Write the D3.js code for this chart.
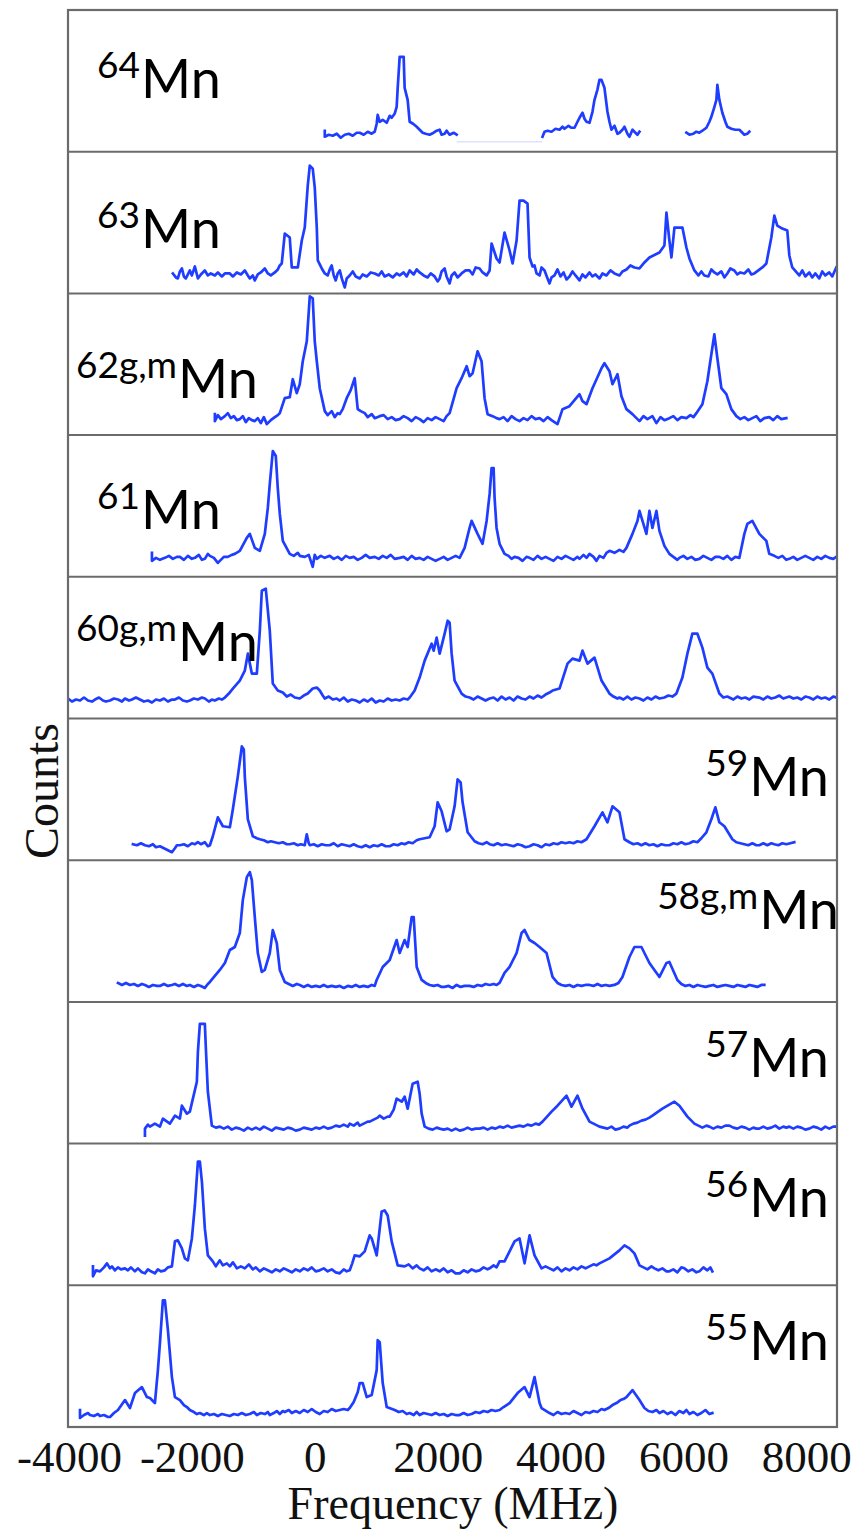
<!DOCTYPE html>
<html><head><meta charset="utf-8">
<script src="https://cdn.jsdelivr.net/npm/d3@7"></script>
<style>body{margin:0;background:#fff}</style>
</head><body><svg id="c" width="853" height="1531"></svg>
<script>
// ---------- data ----------
const isotopes = ["64Mn","63Mn","62Mn","61Mn","60Mn","59Mn","58Mn","57Mn","56Mn","55Mn"];
const massLabels = ["64","63","62g,m","61","60g,m","59","58g,m","57","56","55"];
const elementLabel = "Mn";
const xTicks = [-4000,-2000,0,2000,4000,6000,8000];
const xTitle = "Frequency (MHz)";
const yTitle = "Counts";

// [frequency MHz, counts (relative)]; null = gap in scan
const spec64 = [[163,21],[163,15],[228,17],[293,16],[358,18],[423,14],[488,17],[553,18],[618,16],[683,19],[732,19],[797,17],[862,20],[927,18],[976,20],[1008,28],[1024,37],[1057,30],[1106,32],[1171,29],[1220,36],[1252,34],[1300,38],[1333,45],[1350,64],[1382,95],[1447,95],[1463,64],[1512,52],[1545,30],[1600,28],[1659,25],[1707,22],[1756,19],[1805,18],[1870,17],[1935,19],[1984,21],[2033,22],[2065,17],[2114,18],[2146,21],[2195,17],[2260,19],[2309,17],
  null,
  [3707,15],[3740,20],[3789,21],[3854,20],[3919,23],[3984,22],[4033,25],[4065,23],[4130,26],[4179,24],[4228,24],[4276,30],[4309,34],[4358,39],[4390,33],[4423,30],[4472,29],[4520,40],[4553,52],[4600,62],[4634,72],[4667,72],[4715,64],[4764,40],[4797,30],[4829,22],[4878,26],[4927,18],[4959,19],[5008,22],[5041,25],[5089,18],[5122,15],[5171,22],[5203,20],[5252,17],[5285,20],
  null,
  [6049,19],[6098,17],[6163,18],[6211,20],[6260,19],[6309,21],[6374,24],[6423,30],[6455,35],[6500,44],[6537,52],[6553,67],[6585,52],[6634,39],[6683,30],[6715,25],[6780,23],[6845,22],[6911,22],[6960,19],[6992,17],[7040,18],[7073,20]];
const gap64 = [[2309,10],[3707,10]];
const spec63 = [[-2309,20],[-2260,16],[-2228,15],[-2195,22],[-2163,25],[-2130,17],[-2098,15],[-2065,19],[-2033,23],[-2000,18],[-1951,27],[-1919,19],[-1902,15],[-1854,19],[-1789,23],[-1740,18],[-1691,20],[-1626,18],[-1577,21],[-1512,17],[-1463,20],[-1382,20],[-1333,17],[-1268,21],[-1203,19],[-1138,23],[-1089,18],[-1057,15],[-1008,18],[-976,13],[-927,19],[-878,21],[-813,25],[-764,20],[-715,18],[-650,21],[-601,24],[-569,28],[-537,30],[-488,60],[-407,56],[-374,26],[-276,26],[-211,53],[-163,66],[-114,108],[-81,128],[-33,125],[0,106],[33,66],[49,33],[114,25],[163,20],[211,18],[244,24],[276,28],[309,18],[341,13],[374,20],[407,23],[440,15],[488,6],[520,15],[569,18],[618,22],[667,17],[732,15],[780,19],[846,17],[911,21],[976,20],[1041,18],[1089,22],[1138,17],[1203,19],[1268,16],[1333,20],[1382,18],[1447,21],[1496,17],[1545,23],[1610,19],[1659,24],[1707,21],[1772,18],[1837,16],[1886,20],[1951,17],[2000,12],[2033,15],[2065,22],[2114,25],[2146,17],[2195,10],[2228,18],[2276,21],[2325,16],[2390,20],[2455,23],[2520,23],[2569,19],[2618,26],[2683,25],[2732,21],[2797,18],[2846,23],[2878,50],[2959,35],[3008,31],[3089,61],[3171,43],[3220,30],[3285,53],[3333,93],[3398,93],[3463,90],[3496,36],[3545,27],[3577,28],[3610,20],[3659,18],[3691,26],[3740,23],[3789,15],[3821,10],[3854,16],[3902,18],[3951,24],[4000,17],[4049,21],[4098,14],[4146,17],[4195,22],[4244,18],[4309,13],[4358,19],[4407,16],[4472,21],[4520,17],[4569,19],[4634,15],[4683,20],[4748,18],[4813,23],[4878,20],[4959,18],[5008,22],[5073,24],[5138,28],[5203,26],[5285,25],[5366,31],[5447,36],[5610,41],[5691,48],[5724,81],[5772,53],[5805,36],[5854,66],[5984,66],[6049,46],[6098,35],[6179,23],[6244,18],[6292,22],[6341,18],[6406,17],[6455,24],[6504,21],[6553,19],[6618,22],[6667,16],[6715,20],[6764,25],[6829,23],[6878,19],[6927,21],[6992,20],[7057,24],[7106,19],[7154,20],[7220,23],[7285,26],[7350,30],[7431,56],[7480,78],[7528,68],[7610,65],[7691,63],[7724,38],[7772,26],[7886,18],[7935,23],[7984,17],[8049,21],[8098,16],[8146,20],[8211,15],[8260,22],[8309,18],[8374,21],[8423,17],[8488,26]];
const spec62 = [[-1626,21],[-1626,14],[-1577,20],[-1528,16],[-1463,19],[-1415,22],[-1366,17],[-1317,19],[-1268,15],[-1220,16],[-1171,19],[-1122,13],[-1073,17],[-1024,15],[-976,14],[-927,17],[-878,12],[-829,18],[-780,11],[-715,15],[-650,18],[-601,20],[-569,22],[-488,37],[-407,38],[-358,56],[-293,42],[-244,51],[-195,74],[-130,94],[-81,139],[-33,137],[0,94],[33,74],[81,47],[163,24],[211,20],[276,24],[325,18],[374,22],[407,21],[455,26],[520,37],[585,45],[650,57],[699,26],[748,24],[813,22],[862,18],[927,21],[976,17],[1057,19],[1122,20],[1187,16],[1252,18],[1317,15],[1382,16],[1447,19],[1512,17],[1577,14],[1642,18],[1707,16],[1772,13],[1837,17],[1902,15],[1967,18],[2033,16],[2098,14],[2146,19],[2195,22],[2309,47],[2390,57],[2472,69],[2520,59],[2569,62],[2650,84],[2715,74],[2764,37],[2813,21],[2894,19],[2959,17],[3008,16],[3073,18],[3138,14],[3203,19],[3268,16],[3333,14],[3398,17],[3463,15],[3528,19],[3593,16],[3659,17],[3724,14],[3789,18],[3854,15],[3902,13],[3951,11],[4033,26],[4146,29],[4309,41],[4358,34],[4423,31],[4520,47],[4667,67],[4715,72],[4797,64],[4846,51],[4927,61],[4992,39],[5073,26],[5171,21],[5236,17],[5285,14],[5350,19],[5415,16],[5496,19],[5561,12],[5626,18],[5691,15],[5772,17],[5837,19],[5902,15],[5967,18],[6049,17],[6114,20],[6163,18],[6211,22],[6309,31],[6390,54],[6455,81],[6504,101],[6553,77],[6618,47],[6699,41],[6780,26],[6862,19],[6927,16],[6992,18],[7057,15],[7122,17],[7187,19],[7252,14],[7317,17],[7398,18],[7463,15],[7528,19],[7593,16],[7675,17]];
const spec61 = [[-2650,24],[-2650,16],[-2585,19],[-2520,17],[-2439,19],[-2374,21],[-2309,18],[-2244,20],[-2195,20],[-2130,17],[-2065,21],[-2000,18],[-1951,19],[-1886,22],[-1837,17],[-1789,18],[-1740,23],[-1707,21],[-1642,19],[-1577,14],[-1545,16],[-1480,20],[-1415,20],[-1350,22],[-1301,23],[-1220,26],[-1106,39],[-1057,43],[-976,29],[-894,26],[-813,43],[-764,69],[-732,93],[-683,126],[-634,121],[-602,89],[-569,63],[-520,36],[-407,23],[-342,21],[-276,24],[-244,21],[-163,20],[-98,22],[-33,10],[0,22],[33,18],[98,21],[163,19],[244,21],[309,18],[374,20],[439,17],[504,21],[569,19],[634,20],[699,17],[764,19],[829,22],[894,19],[976,20],[1041,18],[1106,21],[1171,19],[1236,22],[1301,18],[1382,19],[1447,20],[1512,17],[1577,21],[1642,18],[1707,19],[1772,17],[1837,20],[1902,18],[1967,16],[2033,18],[2098,20],[2163,17],[2228,19],[2293,21],[2358,19],[2439,29],[2520,49],[2553,56],[2650,43],[2731,33],[2797,56],[2846,83],[2878,109],[2911,109],[2927,79],[2959,49],[3008,33],[3089,23],[3154,21],[3203,18],[3252,20],[3317,19],[3382,16],[3447,20],[3496,19],[3561,17],[3626,21],[3691,18],[3756,20],[3821,18],[3886,16],[3951,20],[4016,18],[4081,21],[4146,19],[4211,17],[4276,20],[4309,18],[4374,22],[4423,19],[4472,23],[4537,20],[4585,16],[4634,21],[4699,19],[4748,24],[4797,26],[4878,24],[4959,27],[5024,25],[5073,29],[5171,43],[5252,56],[5285,66],[5398,43],[5447,66],[5496,49],[5561,66],[5610,46],[5691,31],[5772,23],[5837,20],[5902,17],[5935,19],[6000,21],[6065,18],[6130,20],[6195,17],[6260,18],[6325,21],[6390,19],[6455,17],[6520,20],[6585,20],[6650,18],[6715,21],[6780,17],[6845,20],[6911,19],[6992,43],[7041,53],[7122,56],[7236,43],[7350,36],[7398,23],[7480,21],[7545,19],[7610,21],[7675,17],[7724,18],[7789,20],[7854,17],[7919,19],[7984,21],[8049,19],[8114,17],[8179,20],[8244,18],[8309,21],[8374,19],[8439,18],[8488,20]];
const spec60 = [[-4016,20],[-3951,17],[-3886,19],[-3821,18],[-3756,21],[-3691,18],[-3626,17],[-3577,19],[-3512,21],[-3447,18],[-3398,17],[-3333,18],[-3268,20],[-3203,19],[-3138,17],[-3089,20],[-3024,18],[-2976,19],[-2911,21],[-2846,19],[-2781,17],[-2715,18],[-2650,16],[-2585,19],[-2520,18],[-2455,20],[-2390,17],[-2325,19],[-2276,19],[-2211,21],[-2146,18],[-2081,17],[-2033,18],[-1967,20],[-1902,19],[-1837,21],[-1789,20],[-1724,17],[-1675,19],[-1626,18],[-1561,20],[-1512,19],[-1463,21],[-1398,25],[-1333,30],[-1220,38],[-1138,48],[-1089,65],[-1024,45],[-943,45],[-894,88],[-862,128],[-797,130],[-732,88],[-683,35],[-602,28],[-520,26],[-455,22],[-390,24],[-325,21],[-244,20],[-179,23],[-114,25],[-33,30],[33,31],[81,28],[130,23],[163,20],[228,22],[293,19],[358,20],[407,18],[472,21],[537,17],[602,19],[667,18],[732,16],[797,19],[862,17],[927,20],[992,16],[1057,18],[1122,17],[1187,20],[1252,18],[1317,19],[1382,18],[1447,20],[1512,19],[1545,21],[1580,24],[1626,28],[1707,41],[1789,58],[1902,75],[1935,68],[1984,81],[2033,65],[2114,85],[2163,98],[2195,96],[2228,65],[2276,38],[2390,25],[2455,22],[2520,21],[2585,19],[2650,22],[2715,20],[2780,18],[2846,20],[2911,21],[2976,18],[3041,22],[3106,19],[3171,21],[3236,18],[3301,22],[3366,20],[3431,19],[3496,22],[3561,20],[3626,23],[3691,21],[3756,24],[3821,26],[3870,28],[3984,30],[4114,55],[4195,60],[4309,58],[4358,68],[4439,55],[4553,61],[4667,38],[4797,25],[4862,22],[4927,20],[4959,21],[5024,19],[5089,22],[5154,19],[5220,21],[5285,20],[5350,18],[5415,21],[5480,19],[5545,22],[5610,20],[5691,21],[5756,23],[5821,22],[5886,25],[5984,41],[6065,65],[6146,85],[6228,85],[6309,71],[6390,51],[6471,45],[6585,25],[6650,21],[6715,22],[6748,21],[6813,19],[6878,22],[6943,20],[7008,21],[7073,19],[7138,22],[7236,21],[7301,19],[7366,22],[7431,20],[7496,21],[7561,23],[7626,20],[7724,22],[7789,20],[7854,21],[7919,19],[7984,22],[8049,21],[8114,19],[8179,22],[8244,20],[8309,21],[8374,19],[8439,22],[8488,21]];
const spec59 = [[-2959,16],[-2894,15],[-2829,17],[-2764,15],[-2699,14],[-2634,16],[-2585,13],[-2520,14],[-2455,12],[-2390,10],[-2325,8],[-2276,12],[-2244,15],[-2195,15],[-2130,16],[-2065,14],[-2000,17],[-1951,16],[-1902,18],[-1854,16],[-1789,18],[-1740,14],[-1707,15],[-1659,24],[-1577,43],[-1496,34],[-1382,33],[-1333,51],[-1252,84],[-1187,114],[-1155,111],[-1138,83],[-1089,41],[-1008,24],[-943,22],[-894,21],[-829,20],[-764,18],[-715,19],[-650,18],[-585,17],[-520,18],[-455,16],[-407,16],[-342,17],[-276,15],[-228,16],[-163,15],[-130,26],[-98,17],[-81,15],[-16,16],[49,14],[114,16],[179,15],[244,15],[309,17],[374,14],[439,16],[504,15],[569,14],[634,16],[699,14],[764,13],[829,15],[894,13],[959,15],[1024,14],[1089,16],[1154,14],[1220,14],[1285,16],[1350,15],[1415,17],[1463,16],[1528,18],[1593,17],[1659,20],[1707,21],[1870,23],[1951,34],[2000,58],[2065,49],[2146,29],[2195,31],[2276,54],[2325,81],[2374,78],[2406,58],[2488,28],[2602,19],[2667,17],[2732,16],[2797,18],[2846,16],[2911,15],[2976,17],[3041,15],[3106,16],[3171,15],[3236,14],[3301,16],[3366,15],[3431,13],[3496,14],[3561,16],[3626,15],[3691,13],[3756,16],[3821,15],[3886,17],[3951,16],[4016,18],[4081,17],[4146,18],[4211,17],[4276,19],[4341,18],[4423,21],[4553,34],[4683,48],[4764,38],[4846,54],[4959,48],[5041,21],[5122,18],[5187,16],[5252,17],[5317,15],[5382,17],[5447,15],[5512,16],[5577,14],[5642,16],[5707,15],[5772,15],[5837,17],[5902,16],[5967,18],[6033,16],[6098,17],[6163,19],[6228,18],[6292,22],[6374,28],[6455,41],[6520,53],[6585,38],[6667,34],[6797,21],[6862,18],[6927,17],[6992,16],[7057,15],[7122,17],[7187,15],[7236,15],[7301,17],[7366,15],[7431,17],[7480,16],[7545,15],[7610,17],[7675,16],[7740,17],[7805,18]];
const spec58 = [[-3203,19],[-3138,17],[-3073,19],[-3008,17],[-2943,18],[-2878,16],[-2813,18],[-2764,17],[-2699,15],[-2634,17],[-2569,16],[-2520,16],[-2455,18],[-2390,16],[-2325,17],[-2276,18],[-2211,16],[-2146,18],[-2081,16],[-2033,17],[-1967,15],[-1902,17],[-1854,16],[-1789,14],[-1740,18],[-1707,20],[-1545,32],[-1463,39],[-1382,52],[-1301,55],[-1220,69],[-1171,102],[-1106,125],[-1057,130],[-1024,122],[-976,85],[-927,49],[-862,30],[-813,32],[-732,49],[-683,72],[-618,59],[-569,32],[-488,20],[-423,18],[-358,16],[-293,18],[-244,17],[-179,15],[-114,17],[-49,15],[16,16],[81,15],[146,17],[211,15],[276,16],[342,15],[407,16],[472,14],[537,16],[602,15],[667,17],[732,15],[797,16],[862,15],[927,17],[976,16],[1008,22],[1106,35],[1220,42],[1333,62],[1382,49],[1463,62],[1512,55],[1577,85],[1610,85],[1659,35],[1740,22],[1805,19],[1870,17],[1935,16],[2000,17],[2065,15],[2114,15],[2179,16],[2244,14],[2309,17],[2374,15],[2439,16],[2520,16],[2585,15],[2650,17],[2715,16],[2780,18],[2846,17],[2911,18],[2960,17],[3008,19],[3089,29],[3171,35],[3285,49],[3366,69],[3415,72],[3496,62],[3577,59],[3659,55],[3772,49],[3870,25],[3951,19],[4016,17],[4081,16],[4146,17],[4211,15],[4276,17],[4341,16],[4407,17],[4472,17],[4537,16],[4602,18],[4667,16],[4732,17],[4797,16],[4878,17],[4943,19],[5008,25],[5122,45],[5203,55],[5317,55],[5447,39],[5528,32],[5610,25],[5724,39],[5772,40],[5902,22],[5967,18],[6033,16],[6098,17],[6163,15],[6228,17],[6292,16],[6358,15],[6423,16],[6488,17],[6553,15],[6618,16],[6683,17],[6748,16],[6813,15],[6878,17],[6943,16],[7008,15],[7073,17],[7138,16],[7203,15],[7268,17],[7317,17]];
const spec57 = [[-2764,8],[-2764,15],[-2715,19],[-2683,17],[-2602,20],[-2520,17],[-2472,25],[-2358,20],[-2276,28],[-2195,25],[-2163,38],[-2081,30],[-2033,32],[-1919,62],[-1902,92],[-1870,120],[-1789,120],[-1772,95],[-1740,52],[-1675,18],[-1610,16],[-1545,17],[-1480,15],[-1415,17],[-1350,14],[-1285,16],[-1220,15],[-1155,13],[-1089,16],[-1024,14],[-959,16],[-894,14],[-829,17],[-764,15],[-699,13],[-634,16],[-569,15],[-504,14],[-439,16],[-374,15],[-309,13],[-244,14],[-179,16],[-114,15],[-49,14],[16,16],[81,15],[146,17],[211,15],[276,16],[342,18],[407,17],[472,19],[537,17],[569,20],[634,18],[699,21],[732,18],[797,20],[862,22],[894,22],[959,24],[1024,26],[1057,28],[1122,25],[1187,27],[1220,27],[1285,34],[1333,45],[1415,42],[1463,47],[1512,35],[1593,60],[1675,62],[1707,50],[1740,30],[1789,17],[1854,15],[1919,14],[1984,16],[2033,15],[2098,14],[2163,15],[2228,13],[2293,15],[2358,13],[2423,14],[2488,16],[2553,14],[2618,15],[2683,15],[2748,16],[2813,14],[2878,16],[2943,15],[3008,17],[3073,16],[3138,18],[3203,16],[3268,17],[3333,18],[3398,17],[3463,19],[3528,18],[3593,20],[3650,19],[3707,22],[3854,32],[3951,38],[4098,48],[4179,37],[4276,48],[4358,35],[4472,22],[4634,17],[4699,16],[4764,15],[4829,17],[4894,14],[4959,15],[5024,17],[5089,16],[5122,18],[5187,20],[5252,21],[5317,23],[5382,24],[5447,26],[5496,28],[5659,35],[5854,42],[5935,38],[6065,27],[6179,20],[6244,18],[6309,16],[6374,18],[6423,17],[6488,15],[6553,17],[6618,16],[6683,18],[6748,18],[6813,16],[6878,15],[6943,17],[7008,16],[7073,14],[7138,16],[7187,15],[7236,15],[7301,17],[7366,15],[7431,16],[7496,18],[7561,15],[7626,17],[7675,16],[7724,17],[7789,15],[7854,17],[7919,16],[7984,14],[8049,15],[8114,17],[8179,16],[8244,14],[8309,17],[8374,15],[8439,17],[8488,17]];
const spec56 = [[-3610,19],[-3610,9],[-3561,15],[-3496,14],[-3431,18],[-3382,22],[-3333,17],[-3301,19],[-3252,15],[-3203,18],[-3154,16],[-3089,17],[-3041,15],[-2992,18],[-2927,14],[-2878,17],[-2813,13],[-2764,12],[-2715,16],[-2667,14],[-2602,12],[-2553,16],[-2504,14],[-2439,15],[-2390,18],[-2325,19],[-2276,44],[-2228,45],[-2163,37],[-2114,27],[-2065,25],[-2000,47],[-1951,80],[-1902,124],[-1870,124],[-1837,104],[-1789,57],[-1740,30],[-1659,24],[-1610,19],[-1545,25],[-1496,20],[-1431,22],[-1382,19],[-1333,23],[-1268,17],[-1203,19],[-1138,17],[-1073,21],[-1008,16],[-959,18],[-894,14],[-829,17],[-764,15],[-699,13],[-634,16],[-569,14],[-504,17],[-439,15],[-374,13],[-309,16],[-244,14],[-179,17],[-114,15],[-49,18],[16,14],[81,15],[146,17],[211,14],[276,16],[342,13],[407,12],[472,16],[520,14],[569,15],[610,22],[650,30],[732,29],[813,34],[894,50],[927,47],[1008,30],[1089,74],[1138,75],[1187,70],[1252,44],[1350,20],[1463,19],[1528,21],[1593,17],[1659,20],[1707,17],[1772,15],[1837,18],[1902,14],[1967,16],[2033,14],[2098,17],[2163,13],[2228,15],[2293,12],[2358,12],[2423,15],[2488,13],[2553,16],[2618,14],[2683,15],[2748,18],[2813,16],[2846,17],[2911,20],[2959,18],[3008,24],[3089,24],[3171,34],[3252,44],[3333,47],[3415,22],[3496,50],[3577,30],[3691,17],[3756,19],[3821,17],[3886,15],[3951,18],[4016,14],[4081,17],[4146,15],[4211,18],[4276,16],[4341,19],[4407,17],[4472,19],[4537,21],[4585,20],[4634,22],[4797,27],[4959,35],[5041,40],[5122,37],[5203,32],[5285,20],[5350,18],[5415,16],[5480,19],[5528,17],[5593,15],[5658,17],[5724,14],[5772,14],[5837,16],[5902,13],[5967,18],[6016,17],[6081,14],[6146,16],[6211,13],[6260,14],[6325,18],[6390,15],[6439,18],[6471,14]];
const spec55 = [[-3821,17],[-3821,9],[-3756,12],[-3691,14],[-3659,12],[-3594,11],[-3529,13],[-3496,11],[-3431,12],[-3366,10],[-3333,10],[-3268,14],[-3203,17],[-3089,27],[-3008,19],[-2927,34],[-2813,40],[-2732,30],[-2683,29],[-2602,24],[-2553,57],[-2520,84],[-2472,127],[-2439,127],[-2390,97],[-2325,50],[-2276,30],[-2195,27],[-2130,22],[-2081,20],[-2033,17],[-1967,15],[-1919,13],[-1870,14],[-1805,12],[-1756,14],[-1707,12],[-1642,13],[-1577,11],[-1512,13],[-1447,12],[-1382,11],[-1317,13],[-1252,12],[-1187,14],[-1122,12],[-1057,13],[-992,15],[-943,12],[-878,14],[-813,13],[-764,15],[-732,12],[-667,14],[-618,16],[-569,13],[-520,16],[-488,15],[-423,17],[-374,14],[-309,16],[-244,14],[-179,17],[-114,15],[-49,18],[16,15],[81,13],[146,16],[211,15],[276,18],[342,16],[407,17],[472,18],[537,17],[569,19],[634,25],[700,35],[732,44],[780,44],[846,30],[927,32],[1008,57],[1024,87],[1057,85],[1106,44],[1171,20],[1301,17],[1366,15],[1431,16],[1496,13],[1545,14],[1610,12],[1659,15],[1707,12],[1772,14],[1837,13],[1902,12],[1967,14],[2033,12],[2098,13],[2163,11],[2228,13],[2293,12],[2358,12],[2423,14],[2488,12],[2553,13],[2618,15],[2683,14],[2748,16],[2813,15],[2878,17],[2943,16],[3008,17],[3073,20],[3122,22],[3171,24],[3301,34],[3415,40],[3496,30],[3577,50],[3659,24],[3691,19],[3821,14],[3886,12],[3951,15],[4016,13],[4081,14],[4146,13],[4211,16],[4276,14],[4341,12],[4407,15],[4472,14],[4537,16],[4602,15],[4667,18],[4715,17],[4780,19],[4846,22],[4911,24],[4976,27],[5024,28],[5073,30],[5171,37],[5285,27],[5366,19],[5431,16],[5496,15],[5561,17],[5610,14],[5675,16],[5740,13],[5805,15],[5870,12],[5935,16],[6000,14],[6049,17],[6098,13],[6163,15],[6228,12],[6292,14],[6358,17],[6423,13],[6471,14]];
const spectra = [spec64,spec63,spec62,spec61,spec60,spec59,spec58,spec57,spec56,spec55];

// ---------- layout ----------
const svg = d3.select("#c");
const L = 68, R = 837, T = 10, B = 1427;
const x = d3.scaleLinear().domain([-4000, 8500]).range([69, 837]);
const band = d3.scaleBand().domain(isotopes).range([T, B]).padding(0);
const yDomain = [0, 142];
const traceColor = "#1f3dff";
const frameColor = "#6b6b6b";
const serif = "'Liberation Serif', 'Times New Roman', serif";

svg.append("defs").append("clipPath").attr("id","clip")
  .append("rect").attr("x",L).attr("y",T).attr("width",R-L).attr("height",B-T);
const plot = svg.append("g").attr("clip-path","url(#clip)");

isotopes.forEach((iso,i)=>{
  const top = band(iso), bot = top + band.bandwidth();
  const y = d3.scaleLinear().domain(yDomain).range([bot, top]);
  const line = d3.line().defined(d=>d!==null).x(d=>x(d[0])).y(d=>y(d[1]));
  if (i===0) {
    plot.append("path").datum(gap64).attr("d", d3.line().x(d=>x(d[0])).y(d=>y(d[1])))
      .attr("fill","none").attr("stroke","#dde2ff").attr("stroke-width",1.5);
  }
  plot.append("path").datum(spectra[i]).attr("d", line)
    .attr("fill","none").attr("stroke",traceColor).attr("stroke-width",2.7)
    .attr("stroke-linejoin","round").attr("stroke-linecap","square");
});

// separators and frame
const seps = svg.append("g");
isotopes.slice(1).forEach(iso=>{
  seps.append("line").attr("x1",L).attr("x2",R).attr("y1",band(iso)).attr("y2",band(iso))
    .attr("stroke",frameColor).attr("stroke-width",2);
});
svg.append("rect").attr("x",L).attr("y",T).attr("width",R-L).attr("height",B-T)
  .attr("fill","none").attr("stroke",frameColor).attr("stroke-width",2.2);

// isotope labels
const labelPos = [
  {side:"left", x:97, dy:88},
  {side:"left", x:97, dy:96},
  {side:"left", x:76, dy:105},
  {side:"left", x:97, dy:94},
  {side:"left", x:76, dy:84},
  {side:"right", x:829, dy:77},
  {side:"right", x:839, dy:69},
  {side:"right", x:829, dy:75},
  {side:"right", x:829, dy:73},
  {side:"right", x:829, dy:75}
];
isotopes.forEach((iso,i)=>{
  const p = labelPos[i];
  const t = svg.append("text")
    .attr("x", p.x).attr("y", band(iso) + p.dy)
    .attr("text-anchor", p.side==="left" ? "start" : "end")
    .style("font-family","Lato, 'Open Sans', sans-serif")
    .attr("fill","#000");
  t.append("tspan").text(massLabels[i]).attr("font-size",37).attr("dy",-20);
  t.append("tspan").text(elementLabel).attr("font-size",54).attr("dy",20).attr("dx",1);
});

// x axis
const ax = svg.append("g").attr("transform",`translate(0,${B})`)
  .call(d3.axisBottom(x).tickValues(xTicks).tickSize(0).tickFormat(d=>String(d)));
ax.attr("font-family", null).attr("font-size", null);
ax.select(".domain").remove();
ax.selectAll("text").attr("y",45).attr("dy",null)
  .style("font-family", serif)
  .style("font-size","45px").attr("fill","#111");

svg.append("text").attr("x",453).attr("y",1519).attr("text-anchor","middle")
  .style("font-family", serif)
  .style("font-size","46px").attr("fill","#111").text(xTitle);

svg.append("text").attr("transform","translate(58,791) rotate(-90)").attr("text-anchor","middle")
  .style("font-family", serif)
  .style("font-size","48px").attr("fill","#111").text(yTitle);
</script>
</body></html>
